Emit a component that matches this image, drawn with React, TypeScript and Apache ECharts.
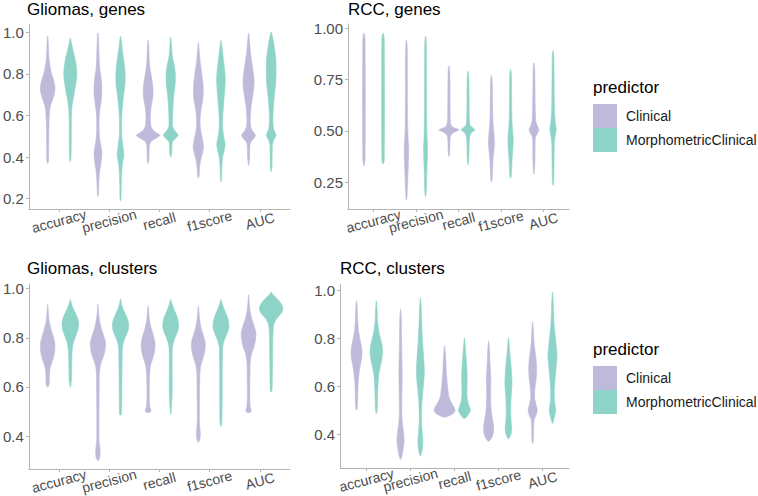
import React, { useEffect, useRef } from "react";
import * as echarts from "echarts";

type Profile = [number, number][];

const metrics = ["accuracy", "precision", "recall", "f1score", "AUC"];
const predictors = ["Clinical", "MorphometricClinical"];
const predictorColors = ["#BEBADA", "#8DD3C7"];
const panelTitles = ["Gliomas, genes", "RCC, genes", "Gliomas, clusters", "RCC, clusters"];
const ticksTenths = [0.2, 0.4, 0.6, 0.8, 1.0];
const ticksQuarters = [0.25, 0.5, 0.75, 1.0];
const categoryPositions = [1, 2, 3, 4, 5];
const oddCategoryPositions = [1, 3, 5];
const evenCategoryPositions = [2, 4];

// [value, density] profiles, one per metric
const gliomasGenesClinical: Profile[] = [
  [[0.98,0.5],[0.93,1.5],[0.88,2.5],[0.84,4.5],[0.80,8],[0.77,12],[0.735,15],[0.70,13],[0.67,9],[0.64,5],[0.61,3.5],[0.55,2.5],[0.45,2],[0.38,1.5],[0.37,0.5]],
  [[0.995,0.5],[0.95,1.5],[0.88,2.5],[0.82,4],[0.78,6.5],[0.73,8],[0.68,7],[0.63,4],[0.58,2.5],[0.53,2.5],[0.48,4],[0.44,7],[0.41,8],[0.37,6],[0.33,3.5],[0.28,2],[0.22,1],[0.21,0.3]],
  [[0.96,0.5],[0.92,1.5],[0.86,2.5],[0.81,5],[0.76,8.5],[0.72,10],[0.68,9],[0.64,6],[0.60,4.5],[0.56,5],[0.54,7],[0.52,14],[0.505,24],[0.49,16],[0.475,6],[0.46,3],[0.42,2],[0.38,1.5],[0.37,0.3]],
  [[0.95,0.3],[0.90,2],[0.85,4],[0.80,7],[0.75,9.5],[0.71,10],[0.67,8.5],[0.63,5.5],[0.58,3.5],[0.53,4.5],[0.49,8],[0.45,10.5],[0.42,8.5],[0.39,5],[0.35,2.5],[0.31,1.5],[0.30,0.3]],
  [[0.995,0.3],[0.95,2],[0.90,4],[0.85,7],[0.80,10],[0.76,11.3],[0.72,10],[0.68,7.5],[0.64,5],[0.59,3.5],[0.55,4],[0.525,8],[0.505,14],[0.485,9],[0.47,4],[0.45,2.5],[0.40,2],[0.36,0.3]],
];
const gliomasGenesMorpho: Profile[] = [
  [[0.97,0.5],[0.95,2],[0.92,5],[0.88,9],[0.84,12],[0.80,13.3],[0.77,12.5],[0.74,10.5],[0.70,7.5],[0.67,5],[0.63,3],[0.58,2.2],[0.48,2],[0.40,1.5],[0.38,0.5]],
  [[0.98,0.5],[0.95,2],[0.91,4],[0.87,6.5],[0.83,8.5],[0.79,9.5],[0.75,9],[0.71,7],[0.67,5],[0.62,3],[0.56,2],[0.50,2.5],[0.46,4.5],[0.42,6.5],[0.40,6.5],[0.37,4],[0.33,2.5],[0.27,1.5],[0.20,1],[0.19,0.3]],
  [[0.975,0.3],[0.94,1.5],[0.89,3],[0.85,6.5],[0.81,9],[0.77,9.5],[0.73,8],[0.69,6],[0.64,4.5],[0.58,3.5],[0.545,4],[0.525,9],[0.505,15],[0.49,10],[0.475,4],[0.46,2.5],[0.42,2],[0.40,0.3]],
  [[0.96,0.3],[0.93,2],[0.89,4],[0.85,6],[0.81,8],[0.77,8.7],[0.73,8],[0.69,6.5],[0.64,5],[0.59,3.5],[0.54,3.5],[0.50,5.5],[0.46,8.5],[0.43,6.5],[0.40,3.5],[0.36,2],[0.30,1.2],[0.28,0.3]],
  [[1.0,0.3],[0.98,2.5],[0.95,5],[0.91,7.5],[0.87,9.5],[0.83,10],[0.79,9.7],[0.75,9],[0.71,7],[0.67,5.5],[0.62,4],[0.57,3.5],[0.535,5],[0.505,9.7],[0.48,5],[0.46,2.5],[0.40,2],[0.35,1.5],[0.33,0.3]],
];
const rccGenesClinical: Profile[] = [
  [[0.975,0.5],[0.95,2],[0.85,2.3],[0.70,2.6],[0.55,2.5],[0.45,2.3],[0.36,2],[0.33,0.5]],
  [[0.94,0.5],[0.90,1.5],[0.75,1.8],[0.60,2],[0.50,2.5],[0.45,3.5],[0.40,4.2],[0.33,3.5],[0.27,2.5],[0.20,1.5],[0.165,0.5]],
  [[0.815,0.3],[0.79,1.5],[0.70,2],[0.60,2.2],[0.54,3],[0.52,6],[0.505,19],[0.49,8],[0.475,3],[0.45,2],[0.40,1.5],[0.375,0.3]],
  [[0.77,0.3],[0.74,1.5],[0.65,2],[0.57,2.5],[0.52,3.5],[0.48,5],[0.44,5.7],[0.40,4.5],[0.36,3],[0.31,2],[0.27,1.5],[0.25,0.3]],
  [[0.83,0.3],[0.80,1.5],[0.70,2],[0.60,2.5],[0.55,3.5],[0.53,5.5],[0.505,9.3],[0.485,6],[0.47,3],[0.44,2.2],[0.35,1.8],[0.29,0.3]],
];
const rccGenesMorpho: Profile[] = [
  [[0.975,0.5],[0.95,2.2],[0.80,2.5],[0.65,2.7],[0.50,2.6],[0.40,2.3],[0.35,2],[0.34,0.5]],
  [[0.96,0.5],[0.92,1.5],[0.75,1.8],[0.60,2],[0.50,2.5],[0.45,3.2],[0.41,3.8],[0.35,3.2],[0.28,2.2],[0.21,1.5],[0.18,0.5]],
  [[0.79,0.3],[0.76,1.5],[0.65,2],[0.56,2.5],[0.525,4.5],[0.505,13.3],[0.49,6],[0.47,3],[0.43,2],[0.36,1.5],[0.335,0.3]],
  [[0.80,0.3],[0.77,1.5],[0.65,2],[0.56,2.5],[0.51,3.5],[0.47,4.8],[0.44,5],[0.40,4],[0.36,2.8],[0.31,2],[0.28,1.3],[0.27,0.3]],
  [[0.89,0.3],[0.86,1.5],[0.75,2],[0.62,2.5],[0.56,3.5],[0.53,4.8],[0.505,6],[0.48,4.5],[0.46,3],[0.42,2.2],[0.33,1.8],[0.25,1.2],[0.235,0.3]],
];
const gliomasClustersClinical: Profile[] = [
  [[0.935,0.3],[0.90,1.5],[0.87,3],[0.84,6.5],[0.81,11],[0.78,15],[0.75,15],[0.72,12.5],[0.70,9],[0.68,5.5],[0.66,4],[0.63,3.5],[0.61,3],[0.60,0.5]],
  [[0.935,0.3],[0.90,1.5],[0.87,3.5],[0.84,7],[0.81,12],[0.78,16],[0.75,15],[0.72,11],[0.70,7],[0.68,4.5],[0.65,3],[0.55,2.5],[0.45,2.2],[0.38,2.5],[0.355,4],[0.33,4.7],[0.31,3.5],[0.30,0.5]],
  [[0.928,0.3],[0.90,1.5],[0.87,3],[0.84,6.5],[0.81,11],[0.78,14.5],[0.75,14],[0.72,10.5],[0.70,7],[0.68,4.5],[0.65,3],[0.60,2.5],[0.55,2.5],[0.52,3.5],[0.51,5],[0.50,6],[0.495,0.5]],
  [[0.928,0.3],[0.90,1.5],[0.87,3],[0.84,6],[0.81,10.5],[0.78,14.5],[0.75,14],[0.72,10.5],[0.70,7],[0.68,4.5],[0.65,3],[0.55,2.5],[0.47,2.2],[0.44,3],[0.41,4.2],[0.39,3.5],[0.375,0.5]],
  [[0.975,0.3],[0.94,1.5],[0.91,3],[0.88,6.5],[0.85,11.5],[0.82,15.5],[0.79,14.5],[0.76,11],[0.74,7],[0.72,4.5],[0.69,3.2],[0.62,2.7],[0.56,2.5],[0.52,3.5],[0.51,5],[0.50,5.7],[0.495,0.5]],
];
const gliomasClustersMorpho: Profile[] = [
  [[0.955,0.3],[0.94,2.5],[0.92,6],[0.90,11],[0.88,15.5],[0.86,17.5],[0.84,17],[0.82,14],[0.80,10],[0.78,6.5],[0.76,4.5],[0.73,3.5],[0.68,3],[0.63,2.5],[0.60,0.5]],
  [[0.958,0.3],[0.94,2],[0.92,5],[0.90,9.5],[0.88,14],[0.86,17],[0.84,17],[0.82,14],[0.80,9.5],[0.78,6],[0.76,4],[0.72,3.5],[0.65,3],[0.55,2.5],[0.49,2],[0.485,0.5]],
  [[0.955,0.3],[0.94,2.5],[0.92,6],[0.90,10.5],[0.88,14.5],[0.86,16.5],[0.84,16.5],[0.82,13.5],[0.80,9],[0.78,5.5],[0.76,3.5],[0.72,3],[0.65,3],[0.60,3.2],[0.55,2.5],[0.49,0.5]],
  [[0.955,0.3],[0.94,2.5],[0.92,6],[0.90,10.5],[0.88,14.5],[0.86,16.5],[0.84,16.5],[0.82,13.5],[0.80,9],[0.78,5.5],[0.76,3.5],[0.72,3],[0.65,2.7],[0.55,2.5],[0.46,2],[0.44,0.5]],
  [[0.985,0.3],[0.975,4],[0.96,12],[0.945,19],[0.93,23.5],[0.92,25],[0.905,23],[0.89,17],[0.875,10.5],[0.86,6.5],[0.84,4.5],[0.80,3.5],[0.72,3],[0.65,2.5],[0.59,2],[0.58,0.5]],
];
const rccClustersClinical: Profile[] = [
  [[0.955,0.3],[0.92,1.5],[0.87,2.5],[0.83,4],[0.80,6.5],[0.77,9.5],[0.745,11],[0.72,10.5],[0.69,8],[0.66,5.5],[0.62,3.5],[0.57,2.5],[0.52,2],[0.50,0.5]],
  [[0.92,0.3],[0.88,1.5],[0.80,2],[0.72,2.8],[0.66,3.3],[0.60,3],[0.53,2.5],[0.48,2.5],[0.44,4],[0.40,6.5],[0.37,7.3],[0.34,5.5],[0.31,3],[0.295,0.5]],
  [[0.767,0.3],[0.74,1.5],[0.70,2.7],[0.66,3.5],[0.62,5],[0.58,7],[0.55,9.5],[0.53,14],[0.51,20],[0.495,21],[0.485,17],[0.475,8],[0.47,0.5]],
  [[0.787,0.3],[0.76,1.5],[0.71,2.5],[0.66,3.8],[0.62,4.5],[0.57,4],[0.52,4.5],[0.48,6.5],[0.45,9],[0.425,10.3],[0.40,9],[0.38,5],[0.37,0.5]],
  [[0.866,0.3],[0.83,1.5],[0.79,2.5],[0.75,4.5],[0.71,7],[0.67,8],[0.63,7],[0.59,4.5],[0.55,4],[0.52,7],[0.50,9.3],[0.48,7],[0.46,3],[0.43,2],[0.38,1.5],[0.36,0.3]],
];
const rccClustersMorpho: Profile[] = [
  [[0.955,0.3],[0.92,1.5],[0.87,2.5],[0.83,5],[0.80,8],[0.77,11.5],[0.74,12.7],[0.71,11],[0.68,8],[0.65,5],[0.61,3.5],[0.56,2.5],[0.51,2],[0.486,0.5]],
  [[0.966,0.3],[0.93,1.5],[0.87,2.5],[0.80,4],[0.74,6],[0.69,7.5],[0.66,8],[0.62,7],[0.58,5],[0.53,3],[0.48,2.2],[0.44,2.5],[0.40,4],[0.37,5],[0.34,4],[0.32,2],[0.31,0.5]],
  [[0.80,0.3],[0.77,1.5],[0.73,3],[0.69,4.5],[0.65,5.5],[0.61,5.5],[0.57,5],[0.545,6],[0.52,9],[0.50,12.3],[0.485,9],[0.47,4],[0.465,0.5]],
  [[0.80,0.3],[0.77,1.5],[0.73,3],[0.69,5],[0.65,6.5],[0.61,7.3],[0.57,6],[0.53,4.8],[0.49,4.5],[0.45,5.5],[0.42,6.7],[0.40,5],[0.38,0.5]],
  [[0.99,0.3],[0.95,1.5],[0.90,2.2],[0.85,3.5],[0.81,5.5],[0.77,7.5],[0.73,9.3],[0.69,8],[0.65,6],[0.61,4.5],[0.57,3.5],[0.53,4.5],[0.50,6.7],[0.48,5],[0.46,2.5],[0.445,0.5]],
];

const panelData = [
  [gliomasGenesClinical, gliomasGenesMorpho],
  [rccGenesClinical, rccGenesMorpho],
  [gliomasClustersClinical, gliomasClustersMorpho],
  [rccClustersClinical, rccClustersMorpho],
];
const panelYRange: [number, number][] = [[0.15, 1.04], [0.119, 1.021], [0.266, 1.019], [0.259, 1.025]];
const panelTicks = [ticksTenths, ticksQuarters, ticksTenths, ticksTenths];
const panelDigits = [1, 2, 1, 1];

// layout
const grids = [
  { left: 27, top: 24, width: 263, height: 185 },
  { left: 348, top: 24, width: 221, height: 185 },
  { left: 27, top: 284, width: 263, height: 185 },
  { left: 340, top: 284, width: 229, height: 184 },
];
const titlePos = [[27, 9], [348, 9], [27, 268.5], [340, 268.5]];
const legendTops = [87.5, 349.5];

const FONT = "'Liberation Sans', Arial, Helvetica, sans-serif";
const AXIS_COLOR = "#b3b3b3";
const DODGE = 0.225;
const HALF_MAX = 0.235;

const xLabelStyle = (values: number[]) => ({
  customValues: values,
  showMinLabel: true, showMaxLabel: true, hideOverlap: false,
  formatter: (v: number) => metrics[Math.round(v) - 1] ?? "",
  rotate: 15, align: "center", verticalAlign: "middle", margin: 12,
  color: "#4d4d4d", fontSize: 14, fontFamily: FONT, fontWeight: "normal",
});

export default function App() {
  const ref = useRef<HTMLDivElement>(null);
  useEffect(() => {
    if (!ref.current) return;
    const chart = echarts.init(ref.current, undefined, { renderer: "svg" });

    const xAxis: any[] = [];
    const yAxis: any[] = [];
    const series: any[] = [];
    panelData.forEach((pair, p) => {
      let maxD = 0;
      pair.forEach((g) => g.forEach((prof) => prof.forEach(([, d]) => { if (d > maxD) maxD = d; })));
      // main x axis: line, ticks, odd labels
      xAxis.push({
        type: "value", gridIndex: p, min: 0.4, max: 5.6, position: "bottom",
        splitLine: { show: false },
        axisLine: { show: true, onZero: false, lineStyle: { color: AXIS_COLOR, width: 1 } },
        axisTick: { show: true, length: 3, customValues: categoryPositions, lineStyle: { color: AXIS_COLOR } },
        axisLabel: xLabelStyle(oddCategoryPositions),
      });
      // companion x axis: even labels only
      xAxis.push({
        type: "value", gridIndex: p, min: 0.4, max: 5.6, position: "bottom", offset: 0,
        splitLine: { show: false },
        axisLine: { show: false, onZero: false },
        axisTick: { show: false },
        axisLabel: xLabelStyle(evenCategoryPositions),
      });
      yAxis.push({
        type: "value", gridIndex: p, min: panelYRange[p][0], max: panelYRange[p][1],
        splitLine: { show: false },
        axisLine: { show: true, onZero: false, lineStyle: { color: AXIS_COLOR, width: 1 } },
        axisTick: { show: true, length: 3, customValues: panelTicks[p], lineStyle: { color: AXIS_COLOR } },
        axisLabel: {
          customValues: panelTicks[p],
          showMinLabel: true, showMaxLabel: true,
          formatter: (v: number) => v.toFixed(panelDigits[p]),
          color: "#4d4d4d", fontSize: 15, fontFamily: FONT, fontWeight: "normal", margin: 5,
        },
      });
      const items: { cat: number; g: number; prof: Profile }[] = [];
      pair.forEach((profiles, g) => profiles.forEach((prof, m) => items.push({ cat: m + 1, g, prof })));
      series.push({
        type: "custom",
        xAxisIndex: 2 * p, yAxisIndex: p,
        data: items.map((it) => [it.cat, it.prof[0][0]]),
        encode: { x: 0, y: 1 },
        renderItem: (params: any, api: any) => {
          const it = items[params.dataIndex];
          const c = it.cat + (it.g === 0 ? -DODGE : DODGE);
          const pts: number[][] = [];
          it.prof.forEach(([y, d]) => pts.push(api.coord([c + (d / maxD) * HALF_MAX, y])));
          for (let i = it.prof.length - 1; i >= 0; i--) {
            const [y, d] = it.prof[i];
            pts.push(api.coord([c - (d / maxD) * HALF_MAX, y]));
          }
          const col = predictorColors[it.g];
          return {
            type: "polygon",
            shape: { points: pts, smooth: 0.25 },
            style: { fill: col, stroke: col, lineWidth: 0.6 },
          };
        },
      });
    });

    const graphic: any[] = [];
    panelTitles.forEach((t, i) => {
      graphic.push({
        type: "text", x: titlePos[i][0], y: titlePos[i][1],
        style: { text: t, fill: "#000", fontSize: 17, fontFamily: FONT, fontWeight: "normal", verticalAlign: "middle", align: "left" },
      });
    });
    legendTops.forEach((ty) => {
      graphic.push({
        type: "text", x: 593, y: ty,
        style: { text: "predictor", fill: "#000", fontSize: 17, fontFamily: FONT, fontWeight: "normal", verticalAlign: "middle" },
      });
      predictors.forEach((name, k) => {
        const top = ty + 16.5 + k * 24;
        graphic.push({ type: "rect", shape: { x: 593, y: top, width: 24, height: 24 }, style: { fill: predictorColors[k] } });
        graphic.push({
          type: "text", x: 626, y: top + 12,
          style: { text: name, fill: "#1a1a1a", fontSize: 14, fontFamily: FONT, fontWeight: "normal", verticalAlign: "middle" },
        });
      });
    });

    chart.setOption({
      animation: false,
      backgroundColor: "#ffffff",
      grid: grids.map((g) => ({ ...g, containLabel: false })),
      xAxis, yAxis, series, graphic,
    });
    return () => chart.dispose();
  }, []);
  return <div ref={ref} style={{ position: "fixed", left: 0, top: 0, width: 758, height: 496 }} />;
}
